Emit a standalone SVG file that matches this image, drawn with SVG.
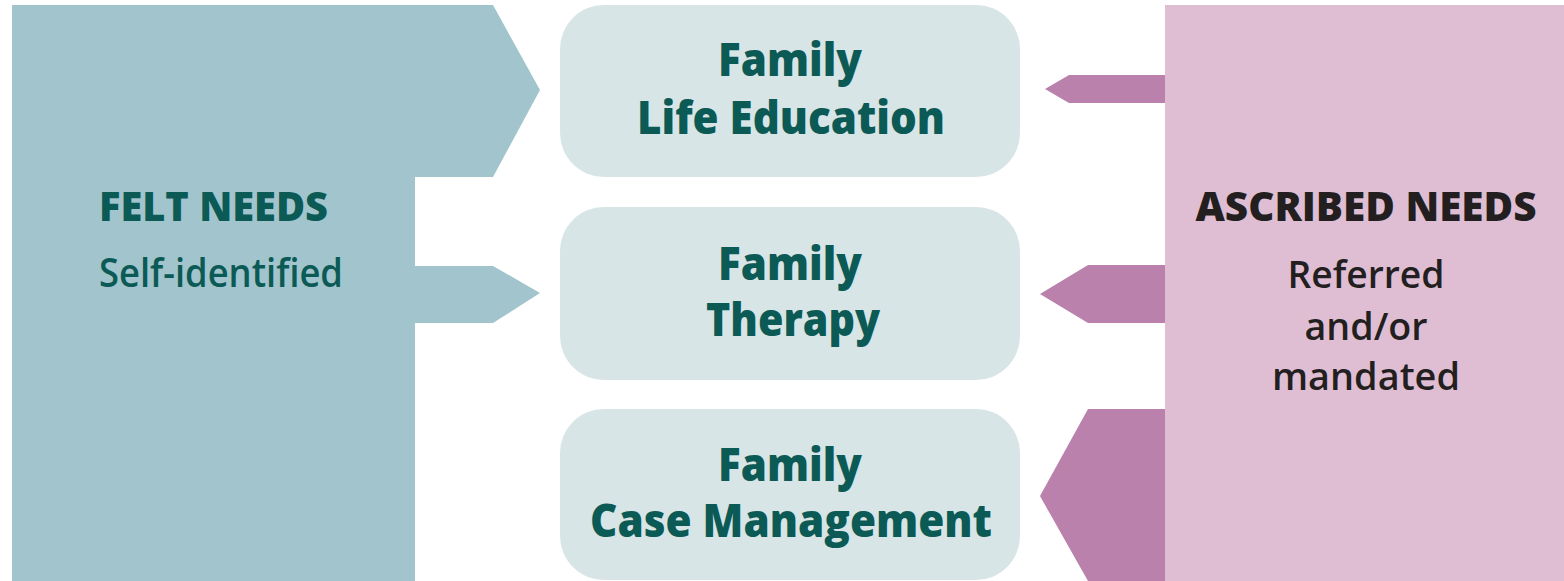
<svg xmlns="http://www.w3.org/2000/svg" width="1564" height="581" viewBox="0 0 1564 581">
<style>
  .felt { fill: #a2c4cc; }
  .box { fill: #d8e5e6; }
  .asc { fill: #dfbed4; }
  .arr { fill: #b981ab; }
  text { font-family: "Open Sans", "Noto Sans", "Liberation Sans", sans-serif; }
  .bt { font-size: 46px; font-weight: 800; fill: #0b5a55; text-anchor: middle; }
  .lt { font-size: 40px; font-weight: 800; fill: #0b5a55; }
  .ls { font-size: 39px; font-weight: 600; fill: #0b5a55; }
  .rt { font-size: 40px; font-weight: 800; fill: #231f20; text-anchor: middle; }
  .rs { font-size: 37px; font-weight: 600; fill: #231f20; text-anchor: middle; }
</style>
<rect width="1564" height="581" fill="#ffffff"/>
<g id="felt-needs">
  <polygon class="felt" points="12,5 493,5 540,90 493,177 415,177 415,266 493,266 540,293 493,323 415,323 415,581 12,581"/>
  <text class="lt" x="99" y="221" textLength="229" lengthAdjust="spacingAndGlyphs">FELT NEEDS</text>
  <text class="ls" x="99" y="287" textLength="244" lengthAdjust="spacingAndGlyphs">Self-identified</text>
</g>
<g id="ascribed-needs">
  <rect class="asc" x="1165" y="5" width="399" height="576"/>
  <text class="rt" x="1366" y="221" textLength="341" lengthAdjust="spacingAndGlyphs">ASCRIBED NEEDS</text>
  <text class="rs" x="1366" y="288" textLength="157" lengthAdjust="spacingAndGlyphs">Referred</text>
  <text class="rs" x="1366" y="340" textLength="123" lengthAdjust="spacingAndGlyphs">and/or</text>
  <text class="rs" x="1366" y="390" textLength="188" lengthAdjust="spacingAndGlyphs">mandated</text>
</g>
<g id="connectors">
  <polygon class="arr" points="1165,75 1069,75 1045,89 1069,103 1165,103"/>
  <polygon class="arr" points="1165,265 1088,265 1040,294 1088,323 1165,323"/>
  <polygon class="arr" points="1165,409 1088,409 1040,496 1088,581 1165,581"/>
</g>
<g id="family-life-education">
  <rect class="box" x="560" y="5" width="460" height="172" rx="44" ry="44"/>
  <text class="bt" x="790" y="76" textLength="144" lengthAdjust="spacingAndGlyphs">Family</text>
  <text class="bt" x="791" y="134" textLength="308" lengthAdjust="spacingAndGlyphs">Life Education</text>
</g>
<g id="family-therapy">
  <rect class="box" x="560" y="207" width="460" height="173" rx="44" ry="44"/>
  <text class="bt" x="790" y="280" textLength="144" lengthAdjust="spacingAndGlyphs">Family</text>
  <text class="bt" x="793" y="336" textLength="174" lengthAdjust="spacingAndGlyphs">Therapy</text>
</g>
<g id="family-case-management">
  <rect class="box" x="560" y="409" width="460" height="171" rx="44" ry="44"/>
  <text class="bt" x="790" y="481" textLength="144" lengthAdjust="spacingAndGlyphs">Family</text>
  <text class="bt" x="791" y="537" textLength="402" lengthAdjust="spacingAndGlyphs">Case Management</text>
</g>
</svg>
